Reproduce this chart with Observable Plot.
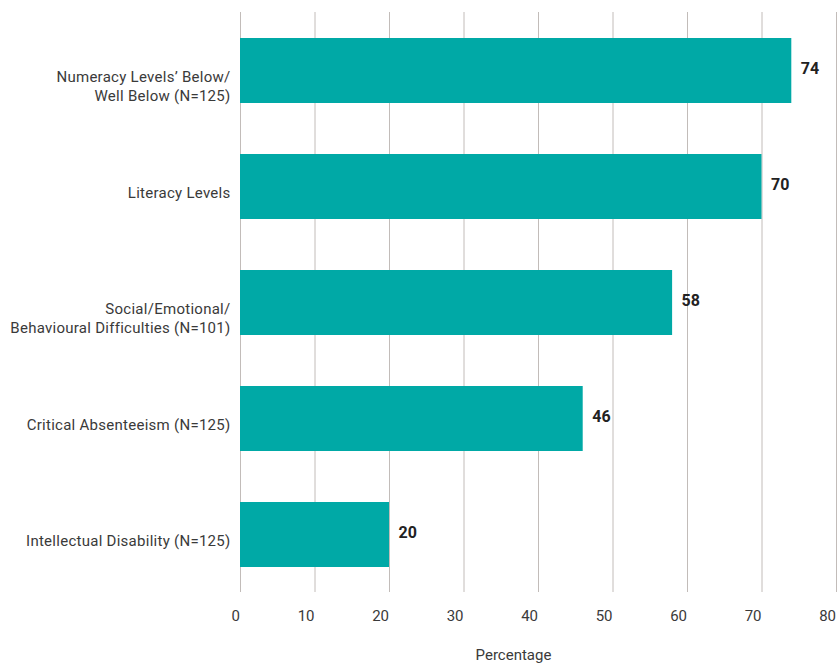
<!DOCTYPE html>
<html>
<head>
<meta charset="utf-8">
<script src="https://cdn.jsdelivr.net/npm/d3@7"></script>
<script src="https://cdn.jsdelivr.net/npm/@observablehq/plot@0.6"></script>
<style>
  html, body { margin: 0; padding: 0; background: #fff; }
  #chart svg { display: block; }
  .ylab text { letter-spacing: 0.27px; }
</style>
</head>
<body>
<div id="chart"></div>
<script>
const categories = [
  "Numeracy Levels’ Below/\nWell Below (N=125)",
  "Literacy Levels",
  "Social/Emotional/\nBehavioural Difficulties (N=101)",
  "Critical Absenteeism (N=125)",
  "Intellectual Disability (N=125)"
];
const values = [74, 70, 58, 46, 20];
const xTicks = [0, 10, 20, 30, 40, 50, 60, 70, 80];
const xTitle = "Percentage";

const data = categories.map((c, i) => ({category: c, value: values[i]}));

const font = "Roboto, 'DejaVu Sans', sans-serif";

const chart = Plot.plot({
  width: 837,
  height: 663,
  marginLeft: 240,
  marginRight: 1,
  marginTop: 12,
  marginBottom: 71,
  style: {fontFamily: font, background: "#fff"},
  x: {domain: [0, 80], axis: null},
  y: {domain: categories, axis: null, paddingInner: 0.44, paddingOuter: 0.22},
  marks: [
    Plot.ruleX(xTicks, {stroke: "#c2bcb9", strokeWidth: 1}),
    Plot.barX(data, {x: "value", y: "category", fill: "#00a9a6"}),
    Plot.text(data, {
      x: "value", y: "category", text: d => String(d.value),
      textAnchor: "start", dx: 9, dy: -2,
      fontSize: 16, fontWeight: "bold", fill: "#222"
    }),
    Plot.text(data, {
      x: 0, y: "category", text: "category", className: "ylab",
      textAnchor: "end", dx: -10, lineAnchor: "top", dy: -2.5,
      lineHeight: 1.27, fontSize: 15, fill: "#3a3a3a"
    }),
    Plot.text(xTicks, {
      x: d => d, text: d => String(d), frameAnchor: "bottom",
      textAnchor: "end", dx: -0.5, dy: 24, lineAnchor: "middle",
      fontSize: 15, fill: "#3a3a3a"
    }),
    Plot.text([xTitle], {
      frameAnchor: "bottom", text: d => d, dx: -25, dy: 63,
      lineAnchor: "middle", fontSize: 15, fill: "#3a3a3a"
    })
  ]
});
document.getElementById("chart").appendChild(chart);
</script>
</body>
</html>
